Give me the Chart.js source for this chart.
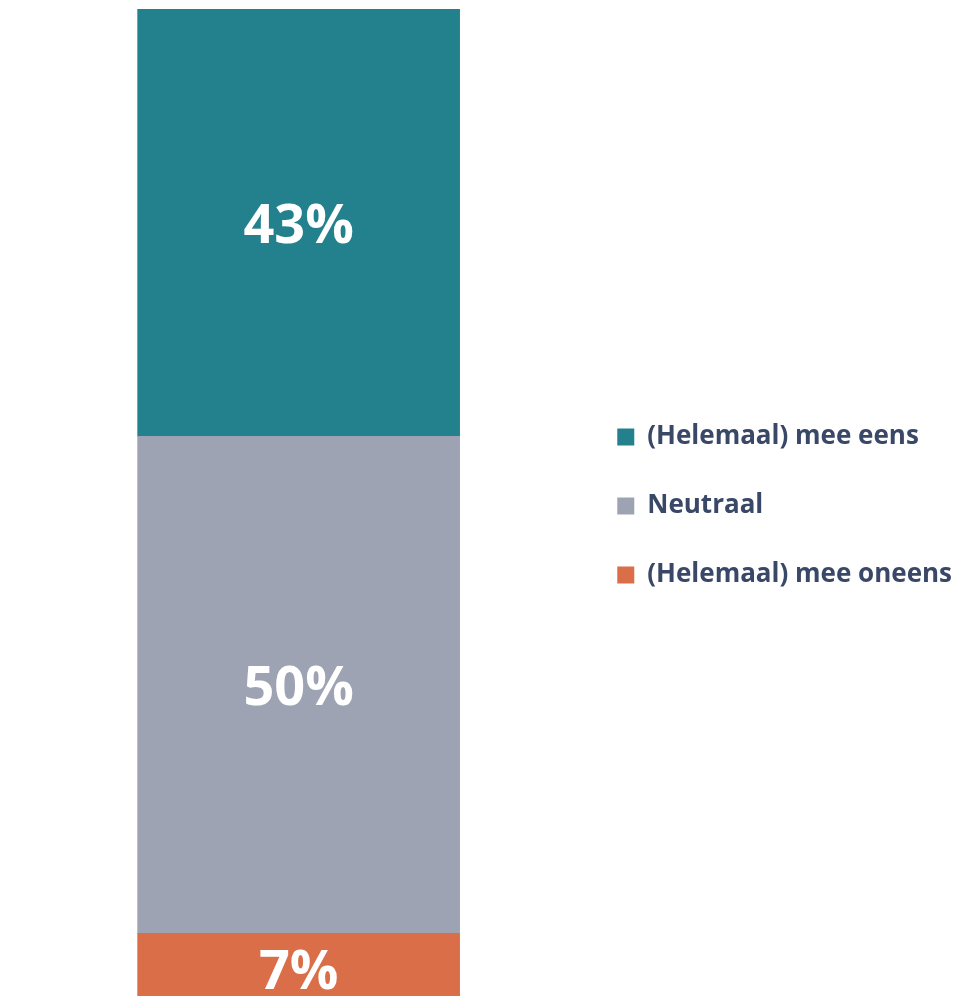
<!DOCTYPE html>
<html>
<head>
<meta charset="utf-8">
<script src="https://cdn.jsdelivr.net/npm/chart.js@4/dist/chart.umd.min.js"></script>
<style>
  html, body { margin: 0; padding: 0; background: #fff; overflow: hidden; }
  #wrap { position: relative; width: 968px; height: 1004px; }
</style>
</head>
<body>
<div id="wrap"><canvas id="stackChart"></canvas></div>
<script>
// Data
const categories = [''];
const seriesNames = ['(Helemaal) mee eens', 'Neutraal', '(Helemaal) mee oneens'];
const agreeValues = [43];
const neutralValues = [50];
const disagreeValues = [7];

const colors = {
  agree: '#23818e',
  neutral: '#9da3b2',
  disagree: '#d96e48',
  legendText: '#3a4868',
};

// Draw the percentage inside each segment
const segmentLabels = {
  id: 'segmentLabels',
  afterDatasetsDraw(chart) {
    const { ctx } = chart;
    ctx.save();
    ctx.fillStyle = '#fff';
    ctx.font = 'bold 54px "Open Sans", sans-serif';
    ctx.textAlign = 'center';
    ctx.textBaseline = 'middle';
    chart.data.datasets.forEach((ds, i) => {
      chart.getDatasetMeta(i).data.forEach((bar, j) => {
        const mid = (bar.y + bar.base) / 2;
        ctx.fillText(ds.data[j] + '%', bar.x, mid + 5);
      });
    });
    ctx.restore();
  }
};

// Stack from the bottom: disagree, neutral, agree (legend reversed)
new Chart(document.getElementById('stackChart'), {
  type: 'bar',
  data: {
    labels: categories,
    datasets: [
      { label: seriesNames[2], data: disagreeValues, backgroundColor: colors.disagree },
      { label: seriesNames[1], data: neutralValues, backgroundColor: colors.neutral },
      { label: seriesNames[0], data: agreeValues, backgroundColor: colors.agree },
    ].map(d => ({ ...d, barThickness: 322, borderWidth: 0 }))
  },
  options: {
    responsive: true,
    maintainAspectRatio: false,
    animation: false,
    layout: { padding: { top: 9, bottom: 1, left: 23, right: 6 } },
    plugins: {
      tooltip: { enabled: false },
      legend: {
        position: 'right',
        reverse: true,
        labels: {
          color: colors.legendText,
          font: { family: '"Open Sans", sans-serif', size: 26, weight: 'bold' },
          boxWidth: 17,
          boxHeight: 17,
          padding: 43,
        }
      }
    },
    scales: {
      x: { stacked: true, display: false },
      y: { stacked: true, display: false, min: 0, max: 100 }
    }
  },
  plugins: [segmentLabels]
});
</script>
</body>
</html>
